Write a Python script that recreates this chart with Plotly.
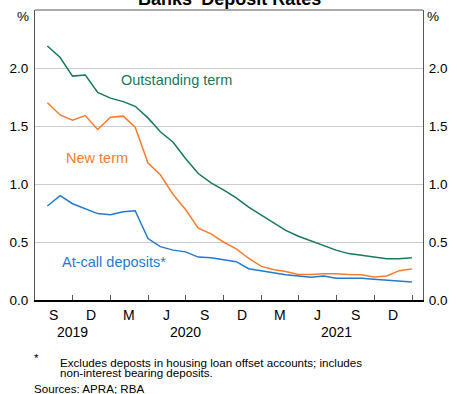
import pandas as pd
import plotly.graph_objects as go

# Monthly data, Jul 2019 - Dec 2021 (plotted at month end)
months = pd.date_range("2019-07-31", periods=30, freq="ME")
outstanding_term = [2.19, 2.09, 1.93, 1.94, 1.79, 1.74, 1.71, 1.67, 1.57, 1.45,
                    1.36, 1.22, 1.09, 1.01, 0.95, 0.88, 0.80, 0.73, 0.66, 0.60,
                    0.55, 0.51, 0.47, 0.43, 0.40, 0.385, 0.375, 0.355, 0.355, 0.365]
new_term = [1.70, 1.595, 1.55, 1.59, 1.47, 1.575, 1.585, 1.49, 1.18, 1.08,
            0.91, 0.78, 0.62, 0.57, 0.50, 0.44, 0.36, 0.29, 0.26, 0.245,
            0.22, 0.22, 0.227, 0.227, 0.22, 0.218, 0.198, 0.207, 0.253, 0.267]
at_call = [0.81, 0.90, 0.83, 0.79, 0.745, 0.735, 0.76, 0.77, 0.53, 0.46,
           0.43, 0.415, 0.37, 0.365, 0.35, 0.33, 0.27, 0.25, 0.235, 0.218,
           0.207, 0.196, 0.207, 0.187, 0.187, 0.187, 0.178, 0.172, 0.164, 0.155]

quarter_ticks = ["2019-10-01", "2020-01-01", "2020-04-01", "2020-07-01", "2020-10-01",
                 "2021-01-01", "2021-04-01", "2021-07-01", "2021-10-01", "2022-01-01"]
quarter_mid = ["2019-08-16", "2019-11-15", "2020-02-15", "2020-05-16", "2020-08-16",
               "2020-11-15", "2021-02-14", "2021-05-16", "2021-08-16", "2021-11-15"]
quarter_labels = ["S", "D", "M", "J", "S", "D", "M", "J", "S", "D"]
year_pos = ["2019-10-01", "2020-07-01", "2021-07-01"]
year_labels = ["2019", "2020", "2021"]
y_ticks = [0, 0.5, 1.0, 1.5, 2.0]
y_ticktext = ["0.0", "0.5", "1.0", "1.5", "2.0"]

GREEN = "#17785c"
ORANGE = "#fb7b2c"
BLUE = "#1f7ad2"
FONT = "Liberation Sans, Arial, sans-serif"

fig = go.Figure()
fig.add_trace(go.Scatter(x=months, y=outstanding_term, mode="lines",
                         line=dict(color=GREEN, width=1.5), name="Outstanding term"))
fig.add_trace(go.Scatter(x=months, y=new_term, mode="lines",
                         line=dict(color=ORANGE, width=1.5), name="New term"))
fig.add_trace(go.Scatter(x=months, y=at_call, mode="lines",
                         line=dict(color=BLUE, width=1.5), name="At-call deposits*"))
# invisible trace to activate the right axis
fig.add_trace(go.Scatter(x=months, y=at_call, yaxis="y2", mode="lines",
                         line=dict(width=0), opacity=0, showlegend=False, hoverinfo="skip"))

x_range = ["2019-07-01", "2022-01-27"]
fig.update_layout(
    width=457, height=394,
    margin=dict(l=34, r=28, t=10, b=94),
    paper_bgcolor="white", plot_bgcolor="white",
    showlegend=False,
    font=dict(family=FONT, color="black"),
    xaxis=dict(range=x_range, type="date", tickvals=quarter_ticks, showticklabels=False,
               ticks="inside", ticklen=5, tickcolor="#555", tickwidth=1,
               showline=True, linecolor="black", linewidth=1.5, showgrid=False,
               zeroline=False),
    yaxis=dict(range=[0, 2.5], tickvals=y_ticks, ticktext=y_ticktext,
               showgrid=True, gridcolor="#cccccc", gridwidth=1,
               showline=True, linecolor="#555", linewidth=1, zeroline=False,
               ticks="", tickfont=dict(size=13.5), ticklabelstandoff=3),
    yaxis2=dict(range=[0, 2.5], tickvals=y_ticks, ticktext=y_ticktext, overlaying="y",
                side="right", showgrid=False, showline=True, linecolor="#555",
                linewidth=1, zeroline=False, ticks="", tickfont=dict(size=13.5),
                ticklabelstandoff=2),
)

# top border
fig.add_shape(type="line", xref="paper", yref="paper", x0=0, x1=1, y0=1, y1=1,
              line=dict(color="#555", width=1))

ann = []
ann.append(dict(text="<b>Banks' Deposit Rates</b>", xref="paper", yref="paper",
                x=0.5, y=1.0, yshift=-1, yanchor="bottom", xanchor="center",
                showarrow=False, font=dict(size=18)))
ann.append(dict(text="%", xref="paper", yref="paper", x=0, xshift=-4, y=1, yshift=-6,
                xanchor="right", yanchor="middle", showarrow=False, font=dict(size=13.5)))
ann.append(dict(text="%", xref="paper", yref="paper", x=1, xshift=2, y=1, yshift=-6,
                xanchor="left", yanchor="middle", showarrow=False, font=dict(size=13.5)))
for pos, lab in zip(quarter_mid, quarter_labels):
    ann.append(dict(text=lab, x=pos, xref="x", yref="paper", y=0, yshift=-15,
                    xanchor="center", yanchor="middle", showarrow=False, font=dict(size=14)))
for pos, lab in zip(year_pos, year_labels):
    ann.append(dict(text=lab, x=pos, xref="x", yref="paper", y=0, yshift=-32,
                    xanchor="center", yanchor="middle", showarrow=False, font=dict(size=14)))
# series labels
ann.append(dict(text="Outstanding term", x="2020-01-21", y=1.895, xref="x", yref="y",
                xanchor="left", yanchor="middle", showarrow=False,
                font=dict(size=14.5, color=GREEN)))
ann.append(dict(text="New term", x="2019-09-09", y=1.225, xref="x", yref="y",
                xanchor="left", yanchor="middle", showarrow=False,
                font=dict(size=14.5, color=ORANGE)))
ann.append(dict(text="At-call deposits*", x="2019-08-31", y=0.325, xref="x", yref="y",
                xanchor="left", yanchor="middle", showarrow=False,
                font=dict(size=14.5, color=BLUE)))
# footnotes
FN = 11.6
ann.append(dict(text="*", xref="paper", yref="paper", x=0, xshift=-3, y=0, yshift=-57,
                xanchor="left", yanchor="middle", showarrow=False, font=dict(size=FN)))
ann.append(dict(text="Excludes deposts in housing loan offset accounts; includes",
                xref="paper", yref="paper", x=0, xshift=23, y=0, yshift=-62,
                xanchor="left", yanchor="middle", showarrow=False, font=dict(size=FN)))
ann.append(dict(text="non-interest bearing deposits.",
                xref="paper", yref="paper", x=0, xshift=23, y=0, yshift=-72,
                xanchor="left", yanchor="middle", showarrow=False, font=dict(size=FN)))
ann.append(dict(text="Sources: APRA; RBA",
                xref="paper", yref="paper", x=0, xshift=-3, y=0, yshift=-88,
                xanchor="left", yanchor="middle", showarrow=False, font=dict(size=FN)))
fig.update_layout(annotations=ann)

fig.write_html("out.html", config={"displayModeBar": False},
               post_script="document.body.style.margin='0';document.body.style.overflow='hidden';")
